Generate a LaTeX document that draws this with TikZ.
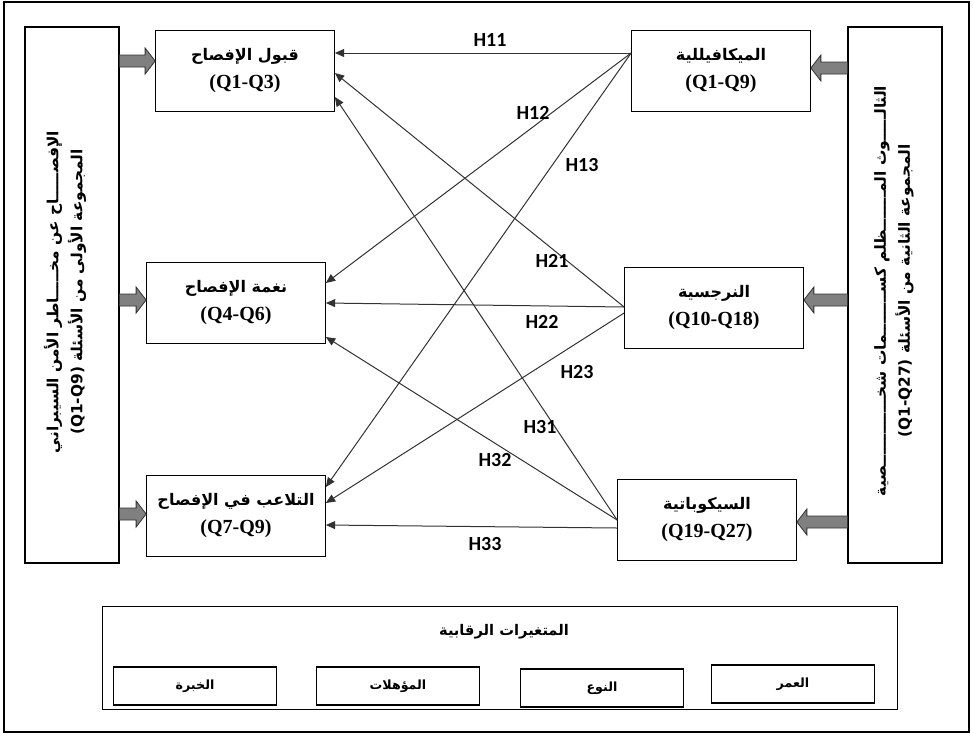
\documentclass[tikz,border=0pt]{standalone}
\usepackage{fontspec}
\setmainfont{Liberation Serif}
\newfontfamily\arabicfont[Script=Arabic]{DejaVu Sans}
\newfontfamily\hypfont{Carlito}
\usetikzlibrary{calc}
\usetikzlibrary{arrows.meta}
\TeXXeTstate=1
\definecolor{arrow-gray}{RGB}{128,128,128}
\definecolor{edge-gray}{RGB}{50,50,50}
\newcommand{\artext}[2][12]{{\arabicfont\bfseries\fontsize{#1}{20}\selectfont\beginR #2\endR}}
\newcommand{\qtext}[1]{\beginL #1\endL}
% #1 tail, #2 tip, #3 direction (1 right, -1 left)
\newcommand{\blockarrow}[3]{%
  \filldraw[fill=arrow-gray, draw=edge-gray, line width=0.6pt]
    ($(#1)+(0,-6)$) -- ($(#2)+(-10*#3,-6)$) -- ($(#2)+(-10*#3,-13)$) -- (#2)
    -- ($(#2)+(-10*#3,13)$) -- ($(#2)+(-10*#3,6)$) -- ($(#1)+(0,6)$) -- cycle;}

\begin{document}
\begin{tikzpicture}[x=0.75pt,y=-0.75pt,
    varbox/.style={draw=black, line width=0.8pt, minimum width=134pt, minimum height=61pt,
      align=center, font=\fontsize{15}{21}\selectfont\bfseries},
    bigbox/.style={draw=black, line width=0.8pt, minimum width=70.5pt, minimum height=402pt},
    ctrlbox/.style={draw=black, line width=0.8pt, minimum width=122pt, minimum height=28.5pt},
    sidetext/.style={align=center, rotate=90, font=\fontsize{12}{18}\selectfont},
    hyp/.style={edge-gray, line width=0.75pt, -{Triangle[length=7pt,width=6pt]}},
    hlabel/.style={font=\hypfont\bfseries\fontsize{15}{18}\selectfont, inner sep=1pt}]
\useasboundingbox (0,0) rectangle (973,736);
\draw[line width=0.8pt] (4,2) rectangle (969,732);

% independent and dependent variables
\node[bigbox] (Lbig) at (72,295) {};
\node[sidetext] (Ltext) at (65,292)
  {\artext[11.5]{الإفصـــــاح عن مخـــــاطر الأمن السيبراني}\\
   \artext[11.5]{المجموعة الأولى من الأسئلة \qtext{(Q1-Q9)}}};
\node[bigbox] (Rbig) at (895,295) {};
\node[sidetext] (Rtext) at (894,291)
  {\artext[11.5]{الثالـــــوث المـــــــظلم كســــــــمات شخـــــــــــــصية}\\
   \artext[11.5]{المجموعة الثانية من الأسئلة \qtext{(Q1-Q27)}}};

\node[varbox] (L1) at (245,71) {\artext{قبول الإفصاح}\\(Q1-Q3)};
\node[varbox] (L2) at (236,303) {\artext{نغمة الإفصاح}\\(Q4-Q6)};
\node[varbox] (L3) at (236,516) {\artext{التلاعب في الإفصاح}\\(Q7-Q9)};
\node[varbox] (R1) at (721,71) {\artext{الميكافيللية}\\(Q1-Q9)};
\node[varbox] (R2) at (714,308) {\artext{النرجسية}\\(Q10-Q18)};
\node[varbox] (R3) at (707,520) {\artext{السيكوباتية}\\(Q19-Q27)};

% block arrows
\coordinate (a1) at ($(L1.west)+(0,-10)$);
\coordinate (a2) at ($(L2.west)+(0,-3)$);
\coordinate (a3) at ($(L3.west)+(0,-2)$);
\coordinate (b1) at ($(R1.east)+(0,-3)$);
\coordinate (b2) at ($(R2.east)+(0,-8)$);
\coordinate (b3) at ($(R3.east)+(0,2)$);
\blockarrow{Lbig.east |- a1}{a1}{1}
\blockarrow{Lbig.east |- a2}{a2}{1}
\blockarrow{Lbig.east |- a3}{a3}{1}
\blockarrow{Rbig.west |- b1}{b1}{-1}
\blockarrow{Rbig.west |- b2}{b2}{-1}
\blockarrow{Rbig.west |- b3}{b3}{-1}

% hypotheses
\draw[hyp] ($(R1.west)+(0,-18)$) -- ($(L1.east)+(0,-18)$);
\draw[hyp] ($(R1.west)+(0,-18)$) -- ($(L2.east)+(0,-20)$);
\draw[hyp] ($(R1.west)+(0,-18)$) -- ($(L3.east)+(0,-29)$);
\draw[hyp] ($(R2.west)+(0,-1)$) -- ($(L1.east)+(0,2)$);
\draw[hyp] ($(R2.west)+(0,-1)$) -- ($(L2.east)+(0,0)$);
\draw[hyp] ($(R2.west)+(0,5)$) -- ($(L3.east)+(0,-13)$);
\draw[hyp] (R3.west) -- ($(L1.east)+(0,26)$);
\draw[hyp] (R3.west) -- ($(L2.east)+(0,34)$);
\draw[hyp] ($(R3.west)+(0,8)$) -- ($(L3.east)+(0,9)$);

\node[hlabel] (h11) at (490,40) {H11};
\node[hlabel] (h12) at (533,113) {H12};
\node[hlabel] (h13) at (582,165) {H13};
\node[hlabel] (h21) at (552,261) {H21};
\node[hlabel] (h22) at (542,322) {H22};
\node[hlabel] (h23) at (577,372) {H23};
\node[hlabel] (h31) at (540,427) {H31};
\node[hlabel] (h32) at (495,460) {H32};
\node[hlabel] (h33) at (485,544) {H33};

% control variables
\node[draw=black, line width=0.8pt, minimum width=596pt, minimum height=77pt] (ctrl) at (500,658) {};
\node (ctrltitle) at (504,632) {\artext[11]{المتغيرات الرقابية}};
\node[ctrlbox] (c1) at (195,686) {\artext[9.5]{الخبرة}};
\node[ctrlbox] (c2) at (398,686) {\artext[9.5]{المؤهلات}};
\node[ctrlbox] (c3) at (602,688) {\artext[9.5]{النوع}};
\node[ctrlbox] (c4) at (793,684) {\artext[9.5]{العمر}};
\end{tikzpicture}
\end{document}
